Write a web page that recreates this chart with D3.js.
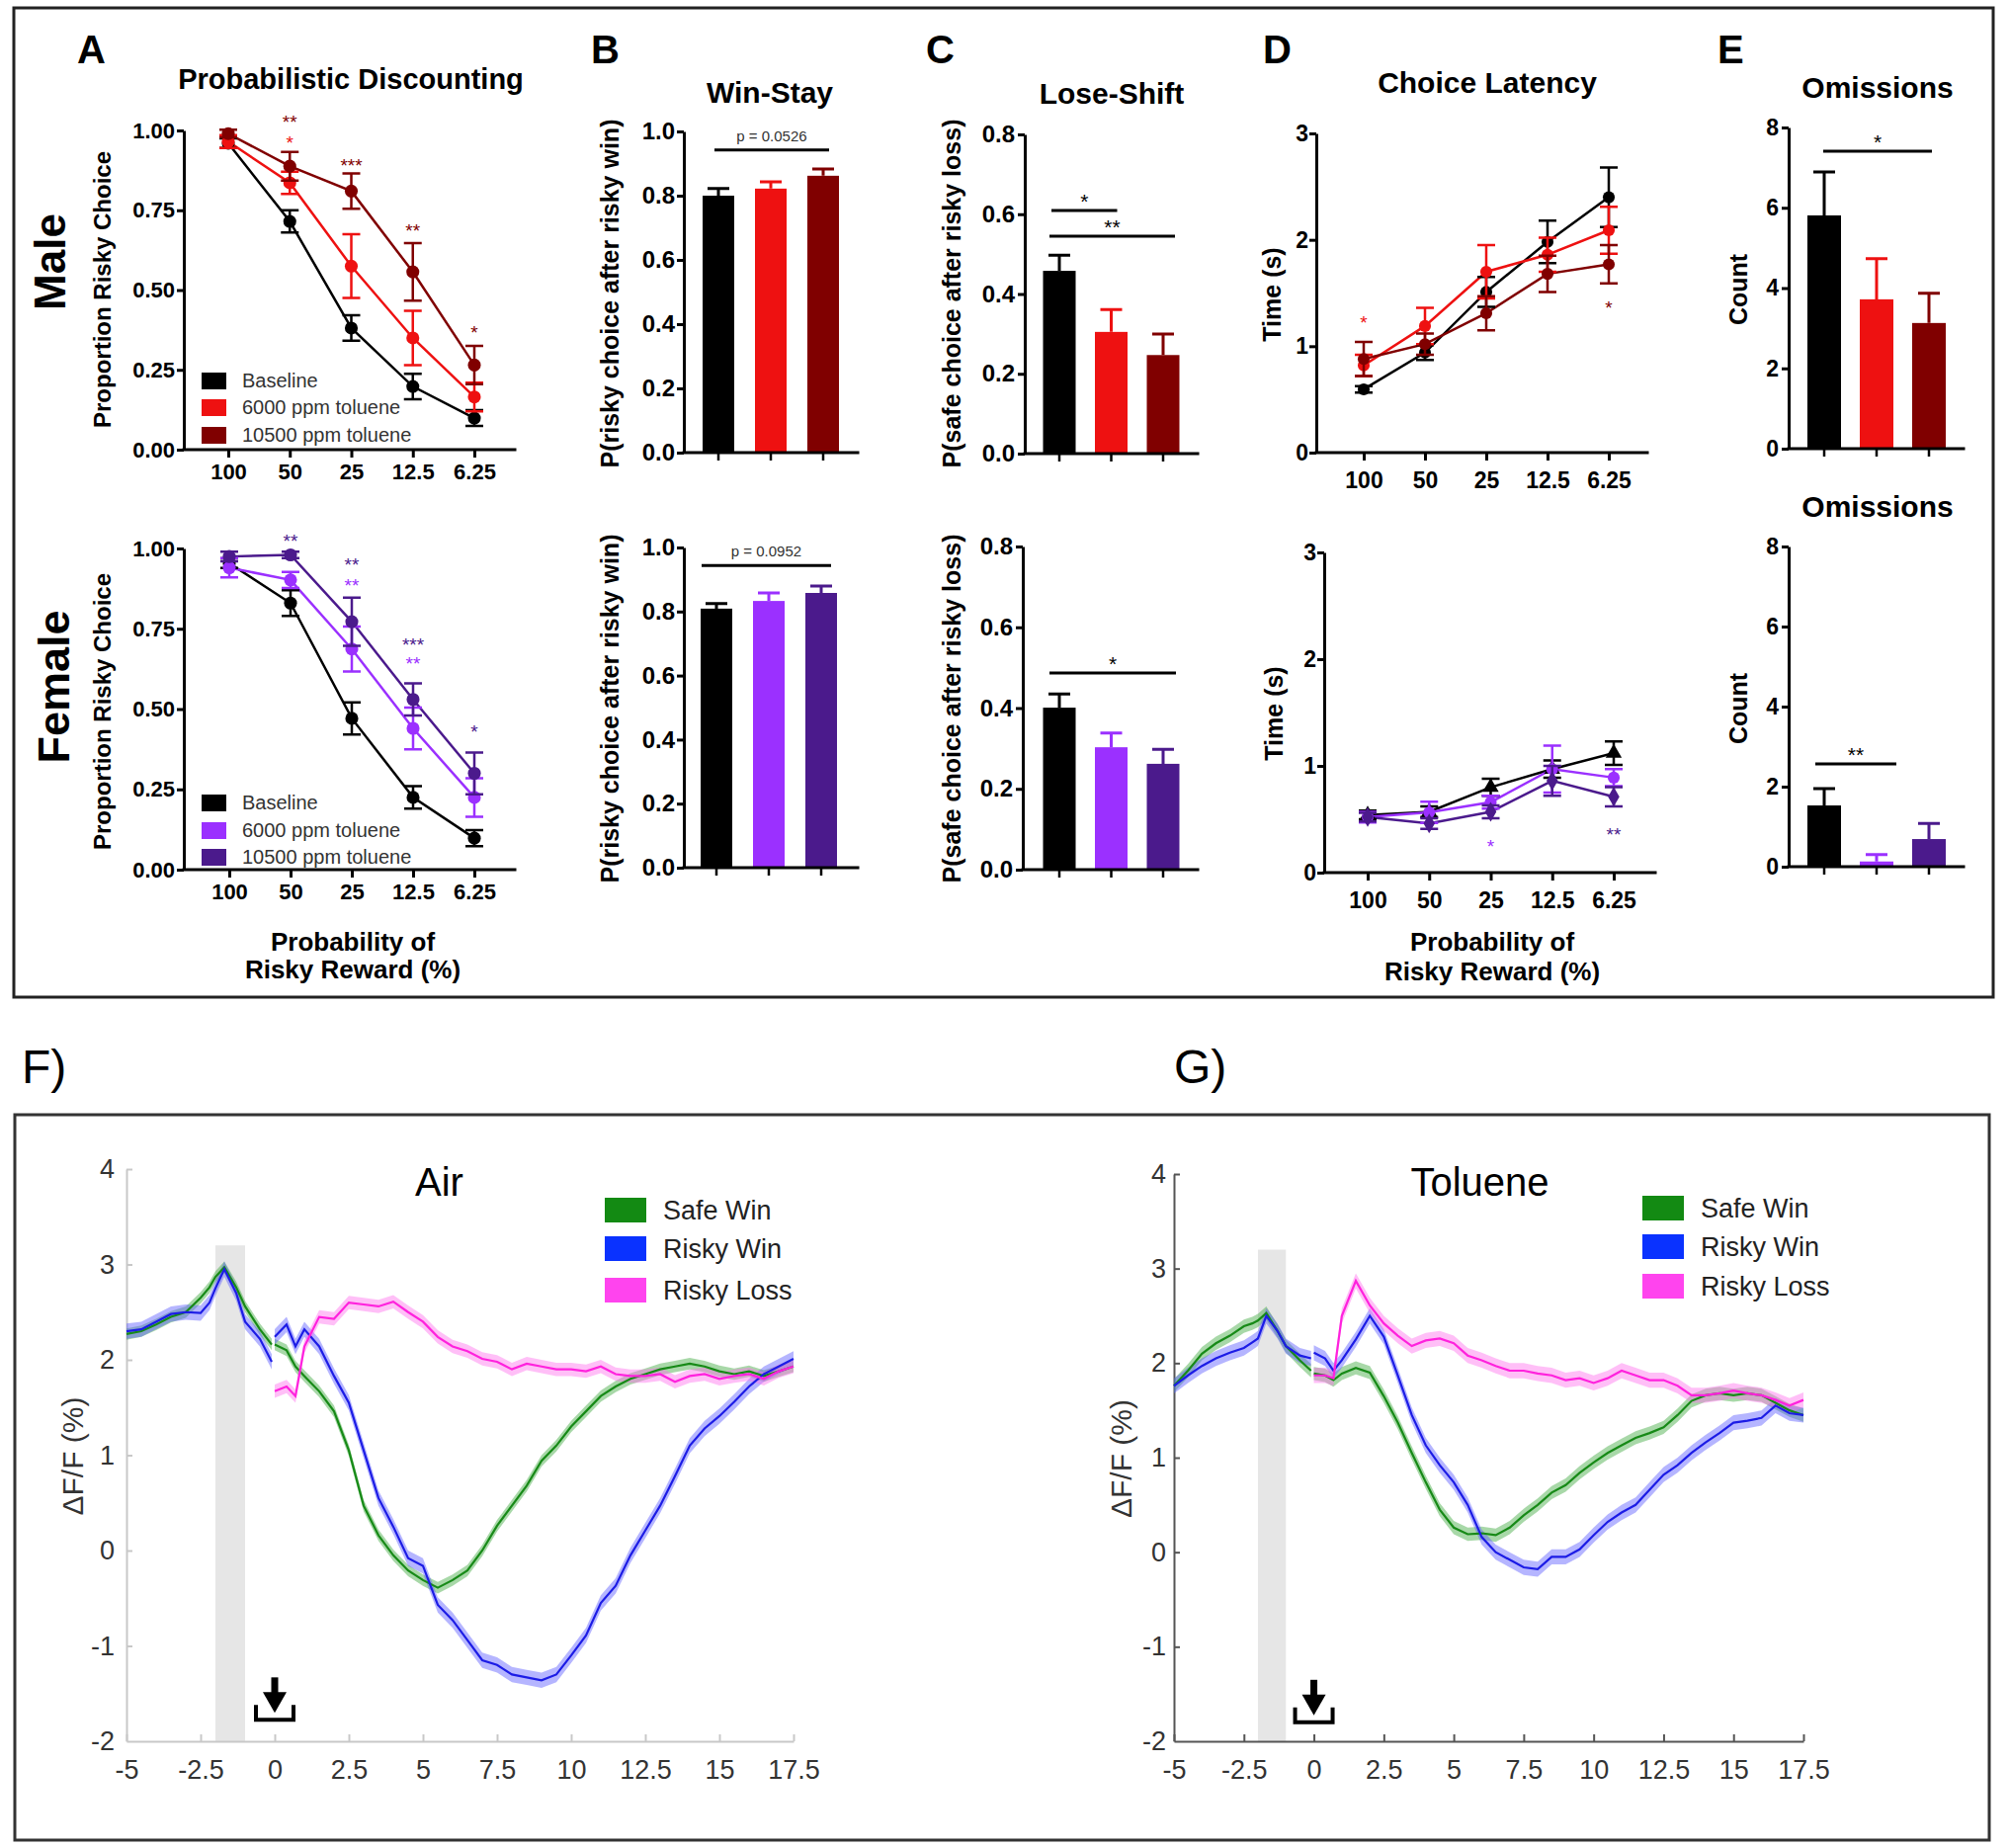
<!DOCTYPE html>
<html><head><meta charset="utf-8">
<script src="https://cdn.jsdelivr.net/npm/d3@7"></script>
<style>
body{margin:0;background:#fff;}
svg{display:block;font-family:"Liberation Sans",Arial,Helvetica,sans-serif;}
</style></head><body>
<svg id="c" width="2033" height="1870"></svg>
<script>
// ================= DATA =================
const probLabels = ["100","50","25","12.5","6.25"];
const groupLabels = ["Baseline","6000 ppm toluene","10500 ppm toluene"];
const maleColors = ["#000000","#ee1111","#800000"];
const femaleColors = ["#000000","#9b30ff","#4b1a8c"];

// A: proportion risky choice
const maleRisky = [
  [0.960,0.715,0.381,0.198,0.099],
  [0.965,0.836,0.575,0.350,0.165],
  [0.990,0.888,0.810,0.557,0.265]];
const maleRiskyErr = [
  [0.015,0.035,0.040,0.040,0.025],
  [0.020,0.035,0.100,0.085,0.045],
  [0.012,0.045,0.055,0.090,0.060]];
const femaleRisky = [
  [0.954,0.830,0.471,0.225,0.098],
  [0.940,0.902,0.687,0.440,0.225],
  [0.975,0.980,0.772,0.530,0.300]];
const femaleRiskyErr = [
  [0.015,0.040,0.050,0.035,0.025],
  [0.030,0.025,0.070,0.065,0.060],
  [0.015,0.010,0.075,0.050,0.065]];
const maleRiskyStars = [
  {cat:"50",v:1.040,t:"**",g:2},{cat:"50",v:0.974,t:"*",g:1},
  {cat:"25",v:0.904,t:"***",g:2},{cat:"12.5",v:0.700,t:"**",g:2},{cat:"6.25",v:0.381,t:"*",g:2}];
const femaleRiskyStars = [
  {cat:"50",v:1.037,t:"**",g:2},{cat:"25",v:0.963,t:"**",g:2},{cat:"25",v:0.898,t:"**",g:1},
  {cat:"12.5",v:0.714,t:"***",g:2},{cat:"12.5",v:0.655,t:"**",g:1},{cat:"6.25",v:0.443,t:"*",g:2}];

// B: win-stay
const maleWinStay = [0.800,0.822,0.862];
const maleWinStayErr = [0.022,0.021,0.021];
const femaleWinStay = [0.809,0.833,0.858];
const femaleWinStayErr = [0.016,0.025,0.022];

// C: lose-shift
const maleLoseShift = [0.458,0.305,0.247];
const maleLoseShiftErr = [0.039,0.056,0.053];
const femaleLoseShift = [0.401,0.303,0.262];
const femaleLoseShiftErr = [0.034,0.035,0.036];

// D: choice latency
const maleLatency = [
  [0.595,0.94,1.51,1.98,2.40],
  [0.82,1.19,1.70,1.86,2.09],
  [0.88,1.02,1.31,1.68,1.77]];
const maleLatencyErr = [
  [0.03,0.07,0.14,0.20,0.28],
  [0.10,0.17,0.25,0.16,0.22],
  [0.16,0.10,0.16,0.17,0.18]];
const femaleLatency = [
  [0.54,0.57,0.80,0.97,1.12],
  [0.52,0.565,0.66,0.97,0.89],
  [0.52,0.46,0.57,0.86,0.71]];
const femaleLatencyErr = [
  [0.04,0.05,0.08,0.08,0.11],
  [0.05,0.10,0.06,0.22,0.08],
  [0.04,0.05,0.06,0.14,0.09]];
const maleLatencyStars = [{cat:"100",v:1.26,t:"*",g:1},{cat:"6.25",v:1.40,t:"*",g:2}];
const femaleLatencyStars = [{cat:"25",v:0.29,t:"*",g:1},{cat:"6.25",v:0.40,t:"**",g:2}];

// E: omissions
const maleOmissions = [5.81,3.72,3.13];
const maleOmissionsErr = [1.08,1.01,0.74];
const femaleOmissions = [1.53,0.13,0.69];
const femaleOmissionsErr = [0.42,0.17,0.39];

// F / G: photometry (ΔF/F %)
const traceLabels = ["Safe Win","Risky Win","Risky Loss"];
const preT = [-5,-4.5,-4,-3.5,-3,-2.5,-2.2,-2,-1.7,-1.3,-1,-0.5,-0.1];
const postT = [0,0.4,0.7,1,1.5,2,2.5,3,3.5,4,4.5,5,5.5,6,6.5,7,7.5,8,8.5,9,9.5,10,10.5,11,11.5,12,12.5,13,13.5,14,14.5,15,15.5,16,16.5,17,17.5];
const airSafePre = [2.27,2.30,2.37,2.45,2.50,2.65,2.76,2.87,2.97,2.76,2.56,2.32,2.16];
const airRiskyWinPre = [2.30,2.32,2.40,2.48,2.50,2.49,2.60,2.75,2.95,2.70,2.40,2.22,1.98];
const airSafePost = [2.16,2.10,1.93,1.83,1.67,1.46,1.05,0.47,0.16,-0.05,-0.21,-0.31,-0.39,-0.31,-0.21,0.00,0.26,0.47,0.68,0.94,1.10,1.30,1.46,1.62,1.72,1.80,1.85,1.90,1.93,1.96,1.93,1.88,1.85,1.88,1.83,1.88,1.93];
const airRiskyWinPost = [2.24,2.37,2.14,2.32,2.14,1.83,1.55,1.05,0.55,0.25,-0.08,-0.16,-0.57,-0.73,-0.94,-1.15,-1.20,-1.30,-1.33,-1.36,-1.30,-1.10,-0.89,-0.55,-0.37,-0.05,0.21,0.47,0.78,1.10,1.28,1.41,1.56,1.72,1.85,1.93,2.01];
const airRiskyLossPost = [1.67,1.72,1.62,2.14,2.45,2.43,2.60,2.58,2.56,2.61,2.50,2.40,2.24,2.14,2.09,2.01,1.98,1.90,1.96,1.93,1.90,1.90,1.88,1.93,1.85,1.83,1.83,1.85,1.77,1.83,1.85,1.80,1.83,1.85,1.80,1.88,1.93];
const tolSafePre = [1.76,1.92,2.10,2.21,2.29,2.39,2.42,2.45,2.53,2.34,2.18,2.03,1.92];
const tolRiskyWinPre = [1.76,1.87,1.97,2.05,2.11,2.16,2.22,2.26,2.50,2.34,2.18,2.08,2.05];
const tolSafePost = [1.89,1.87,1.82,1.89,1.95,1.90,1.65,1.37,1.05,0.74,0.45,0.26,0.19,0.20,0.18,0.26,0.39,0.50,0.63,0.71,0.84,0.95,1.05,1.13,1.21,1.26,1.32,1.45,1.60,1.66,1.68,1.66,1.68,1.66,1.58,1.50,1.45];
const tolRiskyWinPost = [2.11,2.05,1.92,2.03,2.25,2.50,2.28,1.87,1.45,1.13,0.92,0.74,0.50,0.16,0.00,-0.08,-0.16,-0.18,-0.05,-0.05,0.03,0.18,0.32,0.42,0.50,0.66,0.82,0.92,1.05,1.16,1.26,1.37,1.39,1.42,1.55,1.47,1.45];
const tolRiskyLossPost = [1.87,1.87,1.84,2.50,2.87,2.61,2.42,2.29,2.18,2.24,2.26,2.21,2.08,2.03,1.97,1.92,1.92,1.89,1.87,1.82,1.84,1.79,1.84,1.92,1.87,1.82,1.82,1.76,1.66,1.66,1.68,1.71,1.68,1.66,1.61,1.55,1.61];
const airSem = [0.06,0.08,0.07];
const tolSem = [0.07,0.08,0.08];
const cueWindow = [-2,-1,3.2];

// ================= DRAWING =================
const svg = d3.select("#c");
const FONT = "'Liberation Sans',Arial,Helvetica,sans-serif";

function txt(p, x, y, s, o = {}) {
  const t = p.append("text").attr("x", x).attr("y", y).text(s)
    .attr("font-size", o.size || 20).attr("font-weight", o.weight || "normal")
    .attr("fill", o.fill || "#000").attr("text-anchor", o.anchor || "start")
    .attr("font-family", FONT);
  if (o.rotate) t.attr("transform", `rotate(-90,${x},${y})`);
  return t;
}
function styleAxis(a, size, o = {}) {
  a.attr("font-family", null).attr("font-size", null);
  a.select(".domain").attr("stroke", o.stroke || "#000").attr("stroke-width", o.sw || 3);
  a.selectAll(".tick line").attr("stroke", o.stroke || "#000").attr("stroke-width", o.tw || o.sw || 3);
  a.selectAll(".tick text").attr("font-size", size).attr("font-weight", o.weight || "bold")
    .attr("fill", o.fill || "#000").attr("font-family", FONT);
}

// Boxes and panel labels
svg.append("rect").attr("x", 14).attr("y", 8).attr("width", 2003).attr("height", 1001)
  .attr("fill", "none").attr("stroke", "#222").attr("stroke-width", 3);
svg.append("rect").attr("x", 15).attr("y", 1128).attr("width", 1998).attr("height", 734)
  .attr("fill", "none").attr("stroke", "#333").attr("stroke-width", 3);
[["A",78],["B",598],["C",937],["D",1278],["E",1738]].forEach(([l,x]) => txt(svg, x, 64, l, {size:40, weight:"bold"}));
txt(svg, 22, 1096, "F)", {size:48});
txt(svg, 1188, 1096, "G)", {size:48});

// Titles
txt(svg, 355, 90, "Probabilistic Discounting", {size:29, weight:"bold", anchor:"middle"});
txt(svg, 779, 104, "Win-Stay", {size:30, weight:"bold", anchor:"middle"});
txt(svg, 1125, 105, "Lose-Shift", {size:30, weight:"bold", anchor:"middle"});
txt(svg, 1505, 94, "Choice Latency", {size:30, weight:"bold", anchor:"middle"});
txt(svg, 1900, 99, "Omissions", {size:30, weight:"bold", anchor:"middle"});
txt(svg, 1900, 523, "Omissions", {size:30, weight:"bold", anchor:"middle"});
txt(svg, 66, 265, "Male", {size:44, weight:"bold", anchor:"middle", rotate:true});
txt(svg, 70, 695, "Female", {size:45, weight:"bold", anchor:"middle", rotate:true});

// ---------- line panels (A, D) ----------
function linePanel(o) {
  const g = svg.append("g");
  const y = d3.scaleLinear().domain(o.ydom).range([o.yBot, o.yTop]);
  const x = d3.scalePoint().domain(probLabels).range([o.first, o.last]);
  const ya = g.append("g").attr("transform", `translate(${o.axisX},0)`)
    .call(d3.axisLeft(y).tickValues(o.yticks).tickFormat(o.yfmt).tickSize(7).tickSizeOuter(0).tickPadding(o.ypad));
  styleAxis(ya, o.ysize);
  g.append("line").attr("x1", o.axisX).attr("x2", o.xEnd).attr("y1", y(0)).attr("y2", y(0))
    .attr("stroke", "#000").attr("stroke-width", 3).attr("stroke-linecap", "square");
  const xa = g.append("g").attr("transform", `translate(0,${y(0)})`)
    .call(d3.axisBottom(x).tickSize(8).tickPadding(o.xpad));
  xa.select(".domain").remove();
  styleAxis(xa, o.xsize);
  o.series.forEach((vals, i) => {
    g.append("path").attr("d", d3.line().x((d, j) => x(probLabels[j])).y(d => y(d))(vals))
      .attr("fill", "none").attr("stroke", o.colors[i]).attr("stroke-width", 2.5);
  });
  o.series.forEach((vals, i) => {
    vals.forEach((v, j) => {
      const e = o.errs[i][j], cx = x(probLabels[j]), c = 9;
      g.append("path")
        .attr("d", `M${cx},${y(v - e)}V${y(v + e)}M${cx - c},${y(v - e)}H${cx + c}M${cx - c},${y(v + e)}H${cx + c}`)
        .attr("stroke", o.colors[i]).attr("stroke-width", 2.5).attr("fill", "none");
      g.append("path").attr("transform", `translate(${cx},${y(v)})`)
        .attr("d", d3.symbol(o.symbols[i], o.symSize)()).attr("fill", o.colors[i]);
    });
  });
  o.stars.forEach(s => {
    txt(g, x(s.cat), y(s.v) + 11, s.t, {size:19, anchor:"middle", fill:o.colors[s.g]});
  });
  if (o.legend) {
    o.legend.rows.forEach((yc, i) => {
      g.append("rect").attr("x", o.legend.x).attr("y", yc - 8).attr("width", 25).attr("height", 17).attr("fill", o.colors[i]);
      txt(g, o.legend.x + 41, yc + 7, groupLabels[i], {size:20, fill:"#333"});
    });
  }
  return {x, y};
}
const fmt2 = d3.format(".2f");
const circ = d3.symbolCircle;
linePanel({axisX:186, yTop:132, yBot:455, xEnd:521, first:231, last:480, ydom:[0,1],
  yticks:[0,0.25,0.5,0.75,1], yfmt:fmt2, ypad:2, ysize:22, xpad:6, xsize:22,
  series:maleRisky, errs:maleRiskyErr, colors:maleColors, symbols:[circ,circ,circ], symSize:135,
  stars:maleRiskyStars, legend:{x:204, rows:[385,412,440]}});
linePanel({axisX:186, yTop:555, yBot:880, xEnd:521, first:232, last:480, ydom:[0,1],
  yticks:[0,0.25,0.5,0.75,1], yfmt:fmt2, ypad:2, ysize:22, xpad:6, xsize:22,
  series:femaleRisky, errs:femaleRiskyErr, colors:femaleColors, symbols:[circ,circ,circ], symSize:135,
  stars:femaleRiskyStars, legend:{x:204, rows:[812,840,867]}});
txt(svg, 112, 293, "Proportion Risky Choice", {size:24, weight:"bold", anchor:"middle", rotate:true});
txt(svg, 112, 720, "Proportion Risky Choice", {size:24, weight:"bold", anchor:"middle", rotate:true});
txt(svg, 357, 962, "Probability of", {size:26, weight:"bold", anchor:"middle"});
txt(svg, 357, 990, "Risky Reward (%)", {size:26, weight:"bold", anchor:"middle"});

const fmt0 = d3.format("d");
linePanel({axisX:1332, yTop:135, yBot:458, xEnd:1667, first:1380, last:1628, ydom:[0,3],
  yticks:[0,1,2,3], yfmt:fmt0, ypad:1, ysize:23, xpad:12, xsize:23,
  series:maleLatency, errs:maleLatencyErr, colors:maleColors, symbols:[circ,circ,circ], symSize:115,
  stars:maleLatencyStars});
linePanel({axisX:1340, yTop:559, yBot:883, xEnd:1675, first:1384, last:1633, ydom:[0,3],
  yticks:[0,1,2,3], yfmt:fmt0, ypad:1, ysize:23, xpad:12, xsize:23,
  series:femaleLatency, errs:femaleLatencyErr, colors:femaleColors,
  symbols:[d3.symbolTriangle, circ, d3.symbolDiamond], symSize:115,
  stars:femaleLatencyStars});
txt(svg, 1296, 298, "Time (s)", {size:25, weight:"bold", anchor:"middle", rotate:true});
txt(svg, 1298, 722, "Time (s)", {size:25, weight:"bold", anchor:"middle", rotate:true});
txt(svg, 1510, 962, "Probability of", {size:26, weight:"bold", anchor:"middle"});
txt(svg, 1510, 992, "Risky Reward (%)", {size:26, weight:"bold", anchor:"middle"});

// ---------- bar panels (B, C, E) ----------
function barPanel(o) {
  const g = svg.append("g");
  const y = d3.scaleLinear().domain([0, o.ymax]).range([o.yBot, o.yTop]);
  const step = (o.centers[2] - o.centers[0]) / 2;
  const pi = 1 - o.bw / step;
  const x = d3.scaleBand().domain([0, 1, 2])
    .range([o.centers[0] - step / 2, o.centers[2] + step / 2]).paddingInner(pi).paddingOuter(pi / 2);
  o.values.forEach((v, i) => {
    g.append("rect").attr("x", x(i)).attr("y", y(v)).attr("width", x.bandwidth())
      .attr("height", y(0) - y(v)).attr("fill", o.colors[i]);
    const cx = x(i) + x.bandwidth() / 2, e = o.errs[i];
    g.append("path").attr("d", `M${cx},${y(v)}V${y(v + e)}M${cx - 11},${y(v + e)}H${cx + 11}`)
      .attr("stroke", o.colors[i]).attr("stroke-width", 3).attr("fill", "none");
  });
  const ya = g.append("g").attr("transform", `translate(${o.axisX},0)`)
    .call(d3.axisLeft(y).tickValues(o.yticks).tickFormat(o.yfmt).tickSize(7).tickSizeOuter(0).tickPadding(o.ypad));
  styleAxis(ya, o.ysize);
  g.append("line").attr("x1", o.axisX).attr("x2", o.xEnd).attr("y1", y(0)).attr("y2", y(0))
    .attr("stroke", "#000").attr("stroke-width", 3).attr("stroke-linecap", "square");
  const xa = g.append("g").attr("transform", `translate(0,${y(0)})`)
    .call(d3.axisBottom(x).tickSize(8).tickFormat(""));
  xa.select(".domain").remove();
  styleAxis(xa, 10);
  xa.selectAll(".tick line").attr("stroke-width", 2.5);
  (o.sig || []).forEach(s => {
    const x1 = x(s.from) + x.bandwidth() / 2 + s.pad[0], x2 = x(s.to) + x.bandwidth() / 2 + s.pad[1];
    g.append("line").attr("x1", x1).attr("x2", x2).attr("y1", y(s.v)).attr("y2", y(s.v))
      .attr("stroke", "#000").attr("stroke-width", 3);
    if (s.p) txt(g, (x1 + x2) / 2, y(s.v) - 9, s.t, {size:15, anchor:"middle", fill:"#333"});
    else txt(g, (x1 + x2) / 2, y(s.v) - 2, s.t, {size:21, anchor:"middle", fill:"#000"});
  });
}
const fmt1 = d3.format(".1f");
barPanel({axisX:692, yTop:133, yBot:458, xEnd:868, centers:[727,780,833], bw:32, ymax:1,
  yticks:[0,0.2,0.4,0.6,0.8,1], yfmt:fmt1, ypad:2, ysize:24,
  values:maleWinStay, errs:maleWinStayErr, colors:maleColors,
  sig:[{from:0,to:2,v:0.942,t:"p = 0.0526",p:true,pad:[-4,6]}]});
barPanel({axisX:692, yTop:554, yBot:878, xEnd:868, centers:[725,778,831], bw:32, ymax:1,
  yticks:[0,0.2,0.4,0.6,0.8,1], yfmt:fmt1, ypad:2, ysize:24,
  values:femaleWinStay, errs:femaleWinStayErr, colors:femaleColors,
  sig:[{from:0,to:2,v:0.944,t:"p = 0.0952",p:true,pad:[-15,10]}]});
barPanel({axisX:1037, yTop:136, yBot:459, xEnd:1212, centers:[1072,1125,1177], bw:33, ymax:0.8,
  yticks:[0,0.2,0.4,0.6,0.8], yfmt:fmt1, ypad:3, ysize:24,
  values:maleLoseShift, errs:maleLoseShiftErr, colors:maleColors,
  sig:[{from:0,to:1,v:0.609,t:"*",pad:[-8,6]},{from:0,to:2,v:0.545,t:"**",pad:[-10,12]}]});
barPanel({axisX:1035, yTop:553, yBot:880, xEnd:1212, centers:[1072,1125,1177], bw:33, ymax:0.8,
  yticks:[0,0.2,0.4,0.6,0.8], yfmt:fmt1, ypad:3, ysize:24,
  values:femaleLoseShift, errs:femaleLoseShiftErr, colors:femaleColors,
  sig:[{from:0,to:2,v:0.487,t:"*",pad:[-10,13]}]});
barPanel({axisX:1810, yTop:129, yBot:454, xEnd:1987, centers:[1846,1900,1952], bw:34, ymax:8,
  yticks:[0,2,4,6,8], yfmt:fmt0, ypad:3, ysize:23,
  values:maleOmissions, errs:maleOmissionsErr, colors:maleColors,
  sig:[{from:0,to:2,v:7.41,t:"*",pad:[-1,3]}]});
barPanel({axisX:1810, yTop:553, yBot:877, xEnd:1987, centers:[1846,1900,1952], bw:34, ymax:8,
  yticks:[0,2,4,6,8], yfmt:fmt0, ypad:3, ysize:23,
  values:femaleOmissions, errs:femaleOmissionsErr, colors:femaleColors,
  sig:[{from:0,to:1,v:2.57,t:"**",pad:[-9,20]}]});
txt(svg, 626, 297, "P(risky choice after risky win)", {size:25, weight:"bold", anchor:"middle", rotate:true});
txt(svg, 626, 717, "P(risky choice after risky win)", {size:25, weight:"bold", anchor:"middle", rotate:true});
txt(svg, 972, 297, "P(safe choice after risky loss)", {size:25, weight:"bold", anchor:"middle", rotate:true});
txt(svg, 972, 717, "P(safe choice after risky loss)", {size:25, weight:"bold", anchor:"middle", rotate:true});
txt(svg, 1768, 293, "Count", {size:25, weight:"bold", anchor:"middle", rotate:true});
txt(svg, 1768, 717, "Count", {size:25, weight:"bold", anchor:"middle", rotate:true});

// ---------- photometry panels (F, G) ----------
const traceLine = ["#178a17", "#1c1ce6", "#ff22dd"];
const traceBand = ["#3fa83f", "#5a5aff", "#ff70ee"];
const traceSwatch = ["#138a13", "#0a32ff", "#ff44ee"];
function photoPanel(o) {
  const g = svg.append("g");
  const x = d3.scaleLinear().domain([-5, 17.5]).range([o.x0, o.x1]);
  const y = d3.scaleLinear().domain([-2, 4]).range([o.yBot, o.yTop]);
  g.append("rect").attr("x", x(cueWindow[0])).attr("width", x(cueWindow[1]) - x(cueWindow[0]))
    .attr("y", y(cueWindow[2])).attr("height", y(-2) - y(cueWindow[2])).attr("fill", "#e6e6e6");
  const xa = g.append("g").attr("transform", `translate(0,${y(-2)})`)
    .call(d3.axisBottom(x).tickValues(d3.range(-5, 17.6, 2.5)).tickFormat(d => String(d))
      .tickSize(-7).tickSizeOuter(0).tickPadding(19));
  styleAxis(xa, 27, {stroke:o.axisColor, sw:2, weight:"normal", fill:"#333"});
  const ya = g.append("g").attr("transform", `translate(${o.x0},0)`)
    .call(d3.axisLeft(y).tickValues([-2,-1,0,1,2,3,4]).tickFormat(d => String(d))
      .tickSize(-6).tickSizeOuter(0).tickPadding(o.ypad));
  styleAxis(ya, 27, {stroke:o.axisColor, sw:2, weight:"normal", fill:"#333"});
  ya.selectAll(".tick").filter(d => d === -2).select("line").remove();
  const segs = o.traces;
  const area = (sem) => d3.area().x(d => x(d[0])).y0(d => y(d[1] - sem)).y1(d => y(d[1] + sem));
  const line = d3.line().x(d => x(d[0])).y(d => y(d[1]));
  segs.forEach((tr, i) => tr.forEach(seg => {
    g.append("path").attr("d", area(o.sem[i])(seg)).attr("fill", traceBand[i]).attr("opacity", 0.45);
  }));
  segs.forEach((tr, i) => tr.forEach(seg => {
    g.append("path").attr("d", line(seg)).attr("fill", "none").attr("stroke", traceLine[i]).attr("stroke-width", 2.2);
  }));
  // response arrow icon at t = 0
  const a = g.append("g").attr("transform", `translate(${x(0)},${y(o.arrowTop)})`);
  a.append("rect").attr("x", -3.5).attr("y", 0).attr("width", 7).attr("height", 20).attr("fill", "#000");
  a.append("path").attr("d", "M-12,15L12,15L0,36Z").attr("fill", "#000");
  a.append("path").attr("d", "M-19,28V43H19V28").attr("fill", "none").attr("stroke", "#000").attr("stroke-width", 4);
  txt(g, (o.x0 + o.x1) / 2 + o.titleDx, 1210, o.title, {size:40, anchor:"middle", fill:"#000"});
  traceLabels.forEach((l, i) => {
    g.append("rect").attr("x", o.legX).attr("y", o.legY[i] - 12).attr("width", 42).attr("height", 25).attr("fill", traceSwatch[i]);
    txt(g, o.legX + 59, o.legY[i] + 10, l, {size:27, fill:"#222"});
  });
  txt(g, o.yTitleX, (o.yTop + o.yBot) / 2 + 1, "ΔF/F (%)", {size:30, anchor:"middle", fill:"#333", rotate:true});
}
const zip = (t, v) => t.map((d, i) => [d, v[i]]);
photoPanel({x0:128, x1:803, yTop:1183, yBot:1762, axisColor:"#c8c8c8", ypad:12, title:"Air", titleDx:-21,
  traces:[[zip(preT, airSafePre), zip(postT, airSafePost)],
          [zip(preT, airRiskyWinPre), zip(postT, airRiskyWinPost)],
          [zip(postT, airRiskyLossPost)]],
  sem:airSem, arrowTop:-1.33, legX:612, legY:[1224,1263,1305], yTitleX:84});
photoPanel({x0:1188, x1:1825, yTop:1188, yBot:1762, axisColor:"#555", ypad:8, title:"Toluene", titleDx:-9,
  traces:[[zip(preT, tolSafePre), zip(postT, tolSafePost)],
          [zip(preT, tolRiskyWinPre), zip(postT, tolRiskyWinPost)],
          [zip(postT, tolRiskyLossPost)]],
  sem:tolSem, arrowTop:-1.35, legX:1662, legY:[1222,1261,1301], yTitleX:1145});
</script>
</body></html>
